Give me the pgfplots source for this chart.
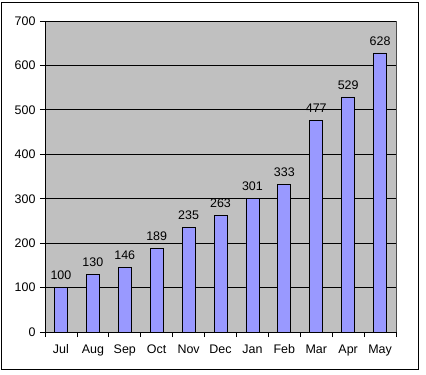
\documentclass[border=0pt]{standalone}
\usepackage{pgfplots}
\pgfplotsset{compat=1.18}
\usepackage{fontspec}
\setmainfont{Liberation Sans}
\definecolor{plotbg}{RGB}{192,192,192}
\definecolor{barfill}{RGB}{153,153,255}
\begin{document}
\begin{tikzpicture}
\useasboundingbox (-45bp,-43bp) rectangle (381bp,332bp);
\draw[black, line width=1bp] (-43bp,-37bp) rectangle (373bp,329bp);
\begin{axis}[
  at={(0,0)}, anchor=south west,
  scale only axis, width=351bp, height=311bp,
  xmin=-0.5, xmax=10.5, ymin=0, ymax=700,
  ytick={0,100,...,700},
  xtick={0,...,10},
  xticklabels={Jul,Aug,Sep,Oct,Nov,Dec,Jan,Feb,Mar,Apr,May},
  minor xtick={-0.5,0.5,...,10.5},
  major x tick style={draw=none},
  tick style={black, line width=0.8bp},
  minor tick length=5bp, major tick length=5bp,
  tick align=outside,
  axis x line*=bottom, axis y line*=left,
  axis line style={black, line width=0.8bp, -},
  axis background/.style={fill=plotbg, draw=gray!60!black},
  ymajorgrids, grid style={black, line width=0.8bp},
  /pgf/number format/assume math mode=true,
  ticklabel style={font=\fontsize{12.5}{14}\selectfont},
  xticklabel style={yshift=-4bp},
  yticklabel style={xshift=-1bp},
  ybar, bar width=13bp,
  nodes near coords,
  nodes near coords style={font=\fontsize{12.5}{14}\selectfont, yshift=4bp},
  clip=false,
]
\addplot[fill=barfill, draw=black, line width=0.8bp] coordinates {
(0,100) (1,130) (2,146) (3,189) (4,235) (5,263) (6,301) (7,333) (8,477) (9,529) (10,628)};
\end{axis}
\end{tikzpicture}
\end{document}
